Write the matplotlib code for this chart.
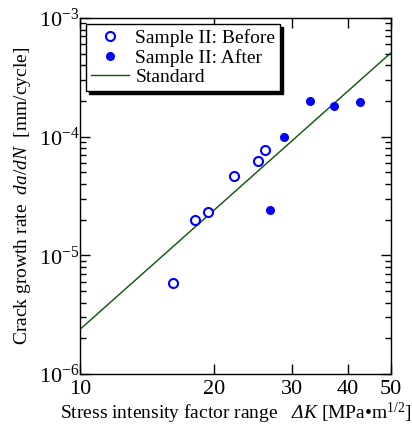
import matplotlib
matplotlib.use("Agg")
import matplotlib.pyplot as plt
from matplotlib.ticker import FixedLocator, FixedFormatter, LogLocator, NullLocator, NullFormatter

plt.rcParams['font.family'] = ['Liberation Serif', 'DejaVu Serif']
plt.rcParams['mathtext.fontset'] = 'custom'
plt.rcParams['mathtext.rm'] = 'Liberation Serif'
plt.rcParams['mathtext.it'] = 'Liberation Serif:italic'
# italic slot used for the Greek capital (mathtext forces Greek capitals upright in 'it')
plt.rcParams['mathtext.sf'] = 'Liberation Serif:italic'

# data
before_dk = [16.2, 18.1, 19.4, 22.2, 25.1, 26.1]
before_rate = [5.8e-6, 2.0e-5, 2.33e-5, 4.7e-5, 6.3e-5, 7.7e-5]
after_dk = [26.8, 28.7, 32.8, 37.2, 42.6]
after_rate = [2.4e-5, 1.0e-4, 2.0e-4, 1.82e-4, 1.97e-4]
std_dk = [10, 50]
std_rate = [2.38e-6, 5.1e-4]
x_ticks = [10, 20, 30, 40, 50]

fig = plt.figure(figsize=(4.12, 4.30), dpi=100)
ax = fig.add_axes([0.194, 0.130, 0.755, 0.828])

ax.plot(before_dk, before_rate, 'o', mfc='white', mec='blue', ms=6.5, mew=1.5,
        label='Sample II: Before', zorder=3)
ax.plot(after_dk, after_rate, 'o', mfc='blue', mec='blue', ms=6.5, mew=0,
        label='Sample II: After', zorder=3)
ax.plot(std_dk, std_rate, '-', color='#0a520a', lw=1.0, label='Standard', zorder=2)

ax.set_xscale('log')
ax.set_yscale('log')
ax.set_xlim(10, 50)
ax.set_ylim(1e-6, 1e-3)

ax.xaxis.set_major_locator(FixedLocator(x_ticks))
ax.xaxis.set_major_formatter(FixedFormatter([str(v) for v in x_ticks]))
ax.xaxis.set_minor_locator(NullLocator())
ax.xaxis.set_minor_formatter(NullFormatter())
ax.yaxis.set_major_locator(LogLocator(base=10, numticks=10))
ax.yaxis.set_minor_locator(LogLocator(base=10, subs=range(2, 10), numticks=10))
ax.yaxis.set_minor_formatter(NullFormatter())

ax.tick_params(which='both', direction='in', top=True, right=True, labelsize=16)
ax.tick_params(which='major', length=7, width=1)
ax.tick_params(which='minor', length=4, width=1)
ax.tick_params(axis='x', pad=4.5)
ax.tick_params(axis='y', pad=0.5)
for s in ax.spines.values():
    s.set_linewidth(1)

ax.set_xlabel(r'Stress intensity factor range   $\mathsf{ΔK}$ [MPa•m$^{1/2}$]', fontsize=14, labelpad=1)
ax.set_ylabel(r'Crack growth rate  $\mathit{da/dN}$  [mm/cycle]', fontsize=14, labelpad=4)

leg = ax.legend(loc='upper left', bbox_to_anchor=(0.019, 0.983), borderaxespad=0,
                fontsize=14, fancybox=False, shadow={'color': 'black', 'alpha': 1},
                edgecolor='black', framealpha=1, handlelength=1.95,
                labelspacing=0.1, borderpad=0.25, handletextpad=0.35)
leg.get_frame().set_linewidth(1)

fig.savefig('out.png', dpi=100)
